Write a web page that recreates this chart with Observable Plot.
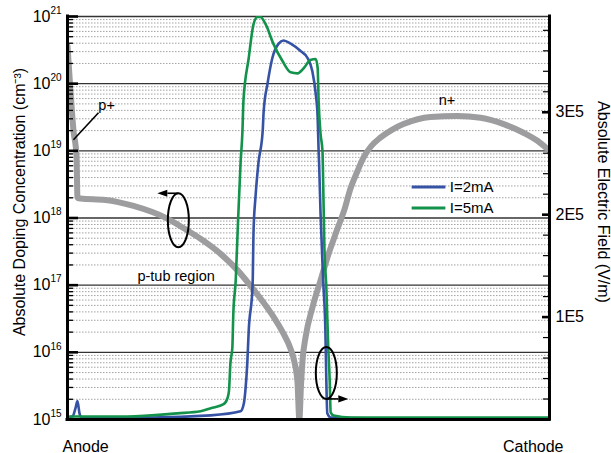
<!DOCTYPE html>
<html>
<head>
<meta charset="utf-8">
<script src="https://cdn.jsdelivr.net/npm/d3@7"></script>
<script src="https://cdn.jsdelivr.net/npm/@observablehq/plot@0.6"></script>
<style>
  html, body { margin: 0; padding: 0; background: #fff; }
  #chart { position: relative; width: 611px; height: 453px; }
  #chart svg { position: absolute; left: 0; top: 0; }
</style>
</head>
<body>
<div id="chart"></div>
<script>
// Position along the cut line, 0 = anode, 100 = cathode (% of device length)
const dopingPos = [0, 0.62, 1.24, 1.87, 2.07, 2.7, 7.88, 13.7, 20.7, 24.9, 27.6, 31.7, 35.3, 37.97, 40.66, 42.95, 44.81, 46.27, 47.1, 47.72, 48.1,
  48.44, 48.76, 49.38, 50.83, 52.49, 53.94, 56.0, 57.5, 58.7, 60.2, 61.4, 62.9, 64.9, 67.4, 69.7, 75.3, 80.9, 85.7, 90.5, 94.6, 97.5, 100];
// Absolute net doping |N_D - N_A| (cm^-3)
const dopingConc = [3.6e20, 7.8e19, 2.0e19, 8.5e18, 2.0e18, 1.95e18, 1.86e18, 1.51e18, 9.8e17, 6.5e17, 4.9e17, 2.95e17, 1.66e17, 9.8e16, 5.5e16, 3.2e16, 1.9e16, 1.13e16, 7.1e15, 3.55e15, 1.0e15,
  3.2e15, 7.6e15, 1.66e16, 4.7e16, 1.17e17, 2.6e17, 6.9e17, 1.37e18, 2.73e18, 5.06e18, 7.9e18, 1.15e19, 1.57e19, 2.07e19, 2.5e19, 3.2e19, 3.3e19, 3.1e19, 2.5e19, 1.86e19, 1.41e19, 1.0e19];

// Electric field magnitude (units of 1E5 V/m)
const pos2mA = [0, 1.04, 1.66, 2.07, 2.49, 2.9, 17.2, 29.7, 35.9, 36.6, 36.9, 37.3, 37.6, 38.4, 38.6, 39.0, 39.6, 40.5, 40.7, 41.5, 42.5, 43.8, 44.8, 46.3, 48.3,
  49.8, 50.8, 51.5, 51.9, 52.1, 52.2, 52.5, 52.9, 53.1, 53.5, 53.7, 53.9, 54.6, 69.1, 100];
const field2mA = [0.02, 0.03, 0.11, 0.18, 0.06, 0.02, 0.02, 0.04, 0.08, 0.16, 0.28, 0.55, 0.87, 1.31, 1.84, 2.17, 2.50, 2.82, 3.01, 3.28, 3.53, 3.67, 3.70, 3.67, 3.60,
  3.53, 3.40, 3.18, 2.95, 2.62, 2.50, 2.01, 1.52, 1.31, 0.87, 0.38, 0.06, 0.02, 0.01, 0.01];

const pos5mA = [0, 0.6, 12.4, 22.8, 27.6, 29.7, 32.4, 33.2, 33.5, 33.8, 34.2, 34.4, 34.9, 35.3, 35.9, 36.3, 36.5, 37.6, 38.6, 39.4, 40.0, 41.1, 42.7, 44.6, 46.3,
  47.7, 49.0, 50.4, 51.5, 51.9, 52.1, 52.5, 52.9, 53.1, 53.3, 53.7, 54.1, 54.4, 54.6, 55.2, 58.7, 100];
const field5mA = [0.02, 0.03, 0.03, 0.06, 0.08, 0.11, 0.15, 0.21, 0.28, 0.55, 0.70, 1.03, 1.36, 1.84, 2.50, 2.82, 3.11, 3.53, 3.86, 3.93, 3.93, 3.86, 3.67, 3.50, 3.39,
  3.38, 3.43, 3.51, 3.52, 3.43, 3.11, 2.79, 2.62, 2.17, 1.68, 1.29, 0.70, 0.38, 0.07, 0.04, 0.02, 0.02];

// Axis ticks
const decades = [15, 16, 17, 18, 19, 20, 21];          // left axis, 10^n cm^-3
const fieldTicks = [1, 2, 3];                         // right axis, ×1E5 V/m
const seriesNames = ["I=2mA", "I=5mA"];
const seriesColors = ["#3552a4", "#12924a"];

// ---- tables built from the arrays above ----
const doping = dopingPos.map((x, i) => ({x, n: dopingConc[i]}));
const e2 = pos2mA.map((x, i) => ({x, e: field2mA[i]}));
const e5 = pos5mA.map((x, i) => ({x, e: field5mA[i]}));
const decadeVals = decades.map(d => 10 ** d);
const minorVals = decades.slice(0, -1).flatMap(d => d3.range(2, 10).map(k => k * 10 ** d));
const fieldMinor = d3.range(1, 20).map(i => i / 5).filter(v => !fieldTicks.includes(v));

// ---- layout ----
const W = 611, H = 453, ML = 67, MR = 62, MT = 16, MB = 34;
const FW = W - ML - MR;
const FONT = "'Liberation Sans', Arial, Helvetica, sans-serif";
const common = {
  width: W, height: H,
  marginLeft: ML, marginRight: MR, marginTop: MT, marginBottom: MB,
  x: {domain: [0, 100], axis: null},
  style: {fontFamily: FONT, fontSize: "16px", background: "transparent", overflow: "visible"}
};

// ellipse with a pointing arrow, marking which axis a curve belongs to
const svgNS = "http://www.w3.org/2000/svg";
function callout({x, y, rx, ry, side, dir, length}) {
  return (index, scales) => {
    const cx = scales.x(x), cy = scales.y(y);
    const g = document.createElementNS(svgNS, "g");
    const mk = (tag, attrs) => {
      const el = document.createElementNS(svgNS, tag);
      for (const k in attrs) el.setAttribute(k, attrs[k]);
      g.appendChild(el);
    };
    mk("ellipse", {cx, cy, rx, ry, fill: "none", stroke: "#000", "stroke-width": 2});
    const ay = side === "top" ? cy - ry : cy + ry;
    const tip = cx + dir * length, head = 10, hw = 3.6;
    mk("line", {x1: cx, y1: ay, x2: tip - dir * head, y2: ay, stroke: "#000", "stroke-width": 1.6});
    mk("path", {d: `M${tip},${ay}L${tip - dir * head},${ay - hw}L${tip - dir * head},${ay + hw}Z`, fill: "#000"});
    return g;
  };
}

// ---- doping concentration (left, log axis) ----
const dopingPlot = Plot.plot({
  ...common,
  y: {type: "log", domain: [1e15, 1e21], axis: null},
  marks: [
    Plot.ruleY(minorVals, {stroke: "#a3a3a3", strokeWidth: 1, strokeDasharray: "1.5,1.5"}),
    Plot.ruleY(decadeVals, {stroke: "#333", strokeWidth: 1.4}),
    Plot.line(doping, {x: "x", y: "n", stroke: "#9d9d9f", strokeWidth: 6, curve: "monotone-x", strokeLinejoin: "round", clip: true}),
    Plot.tickY(minorVals, {insetRight: FW - 6, strokeWidth: 1.3, stroke: "#000"}),
    Plot.tickY(decadeVals, {insetRight: FW - 11, strokeWidth: 2.6, stroke: "#000"}),
    Plot.text(decades, {y: d => 10 ** d, text: () => "10", frameAnchor: "left", textAnchor: "end", dx: -17, fontSize: 16}),
    Plot.text(decades, {y: d => 10 ** d, text: d => String(d), frameAnchor: "left", textAnchor: "start", dx: -17, dy: -6, fontSize: 10}),
    Plot.text(["Absolute Doping Concentration (cm⁻³)"], {frameAnchor: "left", textAnchor: "middle", rotate: -90, dx: -48, dy: -16, fontSize: 16}),
    Plot.link([0], {x1: 1.24, y1: 1.46e19, x2: 6.43, y2: 3.69e19, stroke: "#000", strokeWidth: 1.6}),
    Plot.text(["p+"], {x: 6.4, y: 4.0e19, textAnchor: "start", lineAnchor: "bottom", fontSize: 14.5}),
    Plot.text(["n+"], {x: 77.0, y: 4.85e19, textAnchor: "start", lineAnchor: "bottom", fontSize: 14.5}),
    Plot.text(["p-tub region"], {x: 14.5, y: 1.17e17, textAnchor: "start", lineAnchor: "bottom", fontSize: 14.5}),
    Plot.text(["Anode"], {x: 0, frameAnchor: "bottom", textAnchor: "start", lineAnchor: "bottom", dx: -5, dy: 32, fontSize: 16}),
    Plot.text(["Cathode"], {x: 100, frameAnchor: "bottom", textAnchor: "end", lineAnchor: "bottom", dx: 14, dy: 32, fontSize: 16}),
    callout({x: 23.1, y: 9.1e17, rx: 10.5, ry: 27, side: "top", dir: -1, length: 21})
  ]
});

// ---- electric field (right, linear axis) ----
const fieldPlot = Plot.plot({
  ...common,
  y: {domain: [0, 3.935], axis: null},
  marks: [
    Plot.line(e2, {x: "x", y: "e", stroke: seriesColors[0], strokeWidth: 2.6, curve: "monotone-x", clip: true}),
    Plot.line(e5, {x: "x", y: "e", stroke: seriesColors[1], strokeWidth: 2.6, curve: "monotone-x", clip: true}),
    Plot.ruleY([0], {stroke: "#000", strokeWidth: 3, strokeLinecap: "square"}),
    Plot.ruleX([0, 100], {stroke: "#000", strokeWidth: 3, strokeLinecap: "square"}),
    Plot.tickY(fieldMinor, {insetLeft: FW - 6, strokeWidth: 1.2, stroke: "#000"}),
    Plot.tickY(fieldTicks, {insetLeft: FW - 7, strokeWidth: 2.6, stroke: "#000"}),
    Plot.text(fieldTicks, {y: d => d, text: d => `${d}E5`, frameAnchor: "right", textAnchor: "start", dx: 6, fontSize: 16}),
    Plot.text(["Absolute Electric Field (V/m)"], {frameAnchor: "right", textAnchor: "middle", rotate: 90, dx: 54, dy: -16, fontSize: 16}),
    Plot.link(seriesNames, {x1: 71.4, x2: 78.4, y1: (d, i) => 2.27 - 0.205 * i, y2: (d, i) => 2.27 - 0.205 * i,
      stroke: (d, i) => seriesColors[i], strokeWidth: 3}),
    Plot.text(seriesNames, {x: 79.3, y: (d, i) => 2.27 - 0.205 * i, text: d => d, textAnchor: "start", fontSize: 15}),
    callout({x: 53.8, y: 0.45, rx: 10.5, ry: 26, side: "bottom", dir: 1, length: 22})
  ]
});

const chart = document.getElementById("chart");
chart.appendChild(dopingPlot);
chart.appendChild(fieldPlot);
</script>
</body>
</html>
